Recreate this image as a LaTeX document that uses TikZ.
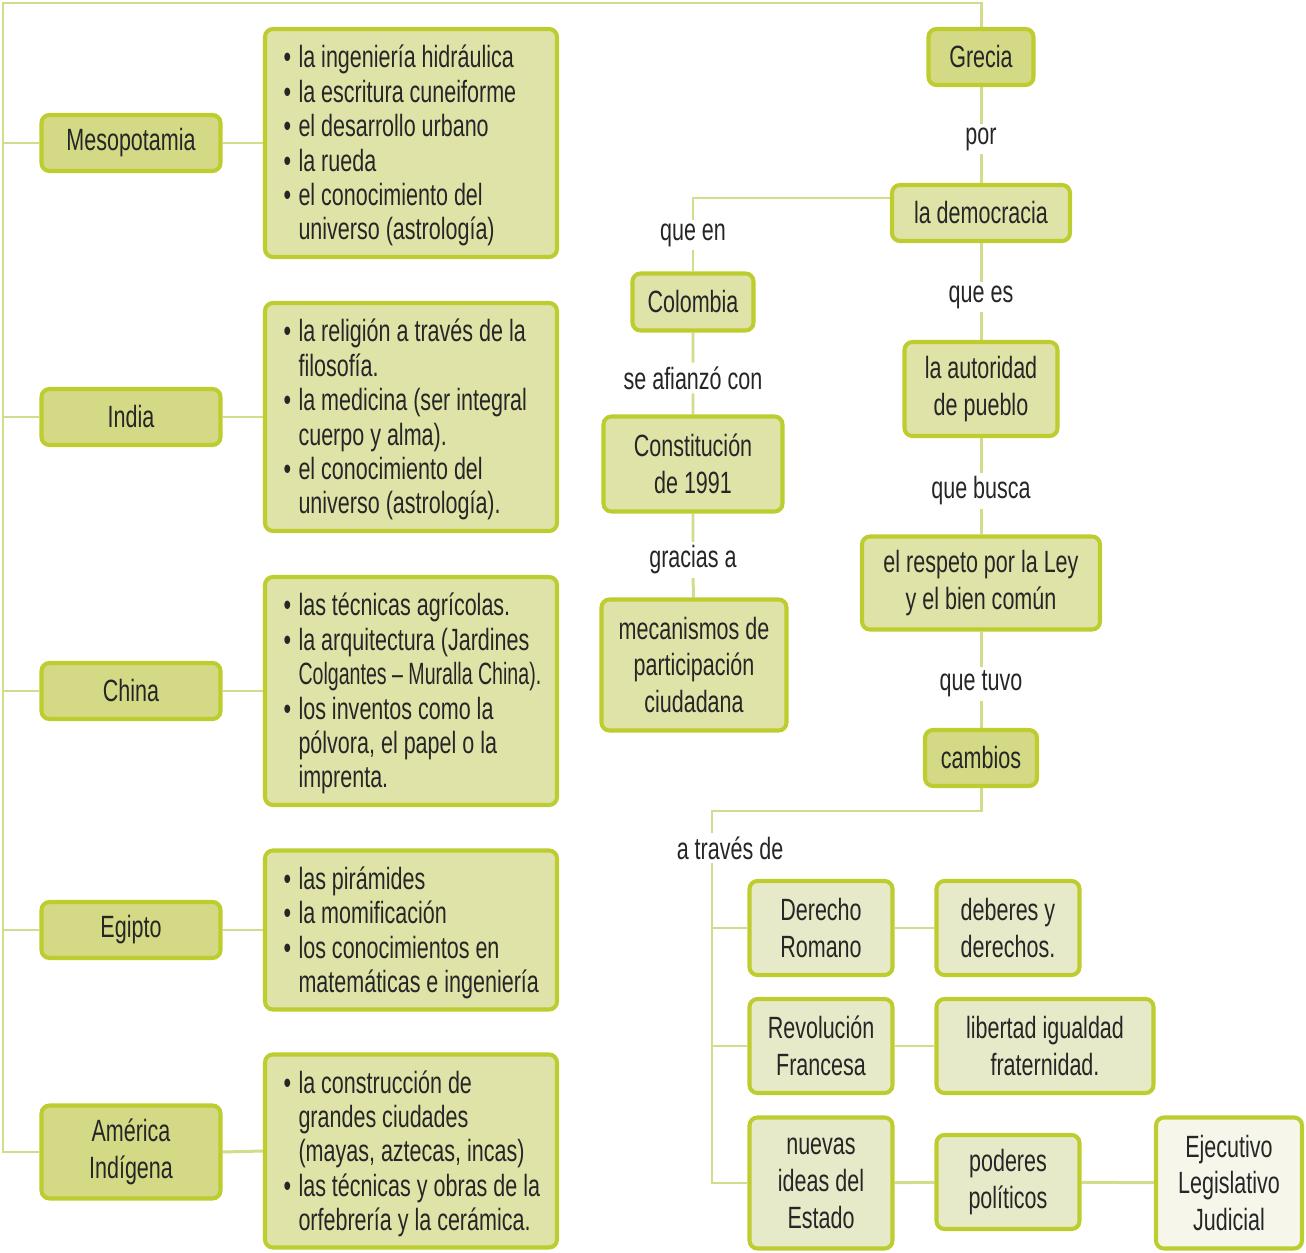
\documentclass[tikz,border=0pt]{standalone}
\usepackage{fontspec}
\setmainfont{Liberation Sans}[FakeStretch=0.7]
\usetikzlibrary{backgrounds}
\definecolor{verdeborde}{HTML}{BDCC2F}
\definecolor{verdelinea}{HTML}{D3DC8C}
\definecolor{fondoA}{HTML}{D3D984}
\definecolor{fondoB}{HTML}{DFE3A8}
\definecolor{fondoC}{HTML}{E7EAC8}
\definecolor{fondoD}{HTML}{F6F7EA}
\definecolor{texto}{HTML}{262626}
\newcommand{\vi}{\makebox[0.3cm][l]{\textbullet}}
\newcommand{\sv}{\hspace*{0.3cm}}
\newcommand{\aportes}[1]{\raisebox{-0.08cm}[\height][\depth]{\makebox[5.1cm][l]{\begin{tabular}{@{}l@{}}#1\end{tabular}}}}

\begin{document}
\begin{tikzpicture}[x=0.02cm,y=-0.02cm,
	caja/.style={draw=verdeborde,line width=2.3pt,rounded corners=4.5pt,inner sep=0pt,
		align=center,text=texto,font=\fontsize{17.5}{21}\selectfont},
	tam/.style 2 args={minimum width=#1*0.02cm,minimum height=#2*0.02cm},
	lista/.style={caja,fill=fondoB,font=\fontsize{17.5}{19.6}\selectfont},
	linea/.style={draw=verdelinea,line width=1.7pt},
	etiq/.style={fill=white,inner sep=2pt,yshift=-0.08cm,text=texto,font=\fontsize{17.5}{21}\selectfont}]
	%%%%% START %%%%%
	\useasboundingbox (0,0) rectangle (1306,1253);

	% civilizaciones
	\node[caja,fill=fondoA,tam={179}{56}] (meso) at (131,143) {Mesopotamia};
	\node[caja,fill=fondoA,tam={179}{56}] (india) at (131,417) {India};
	\node[caja,fill=fondoA,tam={179}{56}] (china) at (131,691) {China};
	\node[caja,fill=fondoA,tam={179}{56}] (egipto) at (131,930) {Egipto};
	\node[caja,fill=fondoA,tam={179}{93}] (america) at (131,1152) {América\\Indígena};

	% aportes
	\node[lista,tam={292}{228}] (lmeso) at (411,143) {\aportes{\vi la ingeniería hidráulica\\
		\vi la escritura cuneiforme\\ \vi el desarrollo urbano\\ \vi la rueda\\
		\vi el conocimiento del\\ \sv universo (astrología)}};
	\node[lista,tam={292}{228}] (lindia) at (411,417) {\aportes{\vi la religión a través de la\\
		\sv filosofía.\\ \vi la medicina (ser integral\\ \sv cuerpo y alma).\\
		\vi el conocimiento del\\ \sv universo (astrología).}};
	\node[lista,tam={292}{228}] (lchina) at (411,691) {\aportes{\vi las técnicas agrícolas.\\
		\vi la arquitectura (Jardines\\ \sv \scalebox{0.91}[1]{Colgantes – Muralla China).}\\
		\vi los inventos como la\\ \sv pólvora, el papel o la\\ \sv imprenta.}};
	\node[lista,tam={292}{159}] (legipto) at (411,930) {\aportes{\vi las pirámides\\
		\vi la momificación\\ \vi los conocimientos en\\ \sv matemáticas e ingeniería}};
	\node[lista,tam={292}{193}] (lamerica) at (411,1151) {\aportes{\vi la construcción de\\
		\sv grandes ciudades\\ \sv (mayas, aztecas, incas)\\
		\vi las técnicas y obras de la\\ \sv orfebrería y la cerámica.}};

	% Grecia
	\node[caja,fill=fondoA,tam={105}{56}] (grecia) at (981,57) {Grecia};
	\node[etiq] (por) at (981,135) {por};
	\node[caja,fill=fondoB,tam={178}{56}] (democ) at (981,213) {la democracia};
	\node[etiq] (queen) at (693,231) {que en};
	\node[caja,fill=fondoB,tam={121}{57}] (colombia) at (693,302) {Colombia};
	\node[etiq] (afianzo) at (693,374) {se afianzó con};
	\node[caja,fill=fondoB,tam={179}{95}] (constit) at (693,464) {Constitución\\de 1991};
	\node[etiq] (gracias) at (693,556) {gracias a};
	\node[caja,fill=fondoB,tam={185}{131}] (mecan) at (694,665) {mecanismos de\\participación\\ciudadana};
	\node[etiq] (quees) at (981,293) {que es};
	\node[caja,fill=fondoB,tam={153}{94}] (autoridad) at (981,389) {la autoridad\\de pueblo};
	\node[etiq] (quebusca) at (981,487) {que busca};
	\node[caja,fill=fondoB,tam={238}{93}] (respeto) at (981,583) {el respeto por la Ley\\y el bien común};
	\node[etiq] (quetuvo) at (981,680) {que tuvo};
	\node[caja,fill=fondoA,tam={112}{56}] (cambios) at (981,758) {cambios};
	\node[etiq] (atraves) at (730,844) {a través de};

	\node[caja,fill=fondoC,tam={143}{94}] (derecho) at (821,928) {Derecho\\Romano};
	\node[caja,fill=fondoC,tam={143}{94}] (deberes) at (1008,928) {deberes y\\derechos.};
	\node[caja,fill=fondoC,tam={143}{94}] (revol) at (821,1046) {Revolución\\Francesa};
	\node[caja,fill=fondoC,tam={217}{94}] (libertad) at (1045,1046) {libertad igualdad\\fraternidad.};
	\node[caja,fill=fondoC,tam={143}{131}] (nuevas) at (821,1183) {nuevas\\ideas del\\Estado};
	\node[caja,fill=fondoC,tam={143}{94}] (poderes) at (1008,1182) {poderes\\políticos};
	\node[caja,fill=fondoD,tam={146}{131}] (ejecutivo) at (1229,1183) {Ejecutivo\\Legislativo\\Judicial};

	\coordinate (tronco) at (3,3);
	\coordinate (codo) at (712,811);

	\begin{scope}[on background layer]
		\draw[linea] (grecia.north) |- (tronco) |- (america.west);
		\foreach \n in {meso,india,china,egipto}
			\draw[linea] (\n.west) -- (\n.west -| tronco);
		\foreach \n in {meso,india,china,egipto,america}
			\draw[linea] (\n.east) -- (l\n.west);

		\draw[linea] (grecia) -- (por) -- (democ);
		\draw[linea] ([yshift=0.3cm]democ.west) -| (queen) -- (colombia);
		\draw[linea] (colombia) -- (afianzo) -- (constit) -- (gracias) -- (mecan);
		\draw[linea] (democ) -- (quees) -- (autoridad) -- (quebusca) -- (respeto) -- (quetuvo) -- (cambios);

		\draw[linea] (cambios) |- (codo) -- (codo |- atraves.north);
		\draw[linea] (codo |- atraves.south) |- (nuevas.west);
		\draw[linea] (derecho.west) -- (derecho.west -| codo);
		\draw[linea] (revol.west) -- (revol.west -| codo);
		\draw[linea] (derecho) -- (deberes);
		\draw[linea] (revol) -- (libertad);
		\draw[linea] (nuevas) -- (poderes) -- (ejecutivo);
	\end{scope}
	%%%%% START %%%%%
\end{tikzpicture}
\end{document}
